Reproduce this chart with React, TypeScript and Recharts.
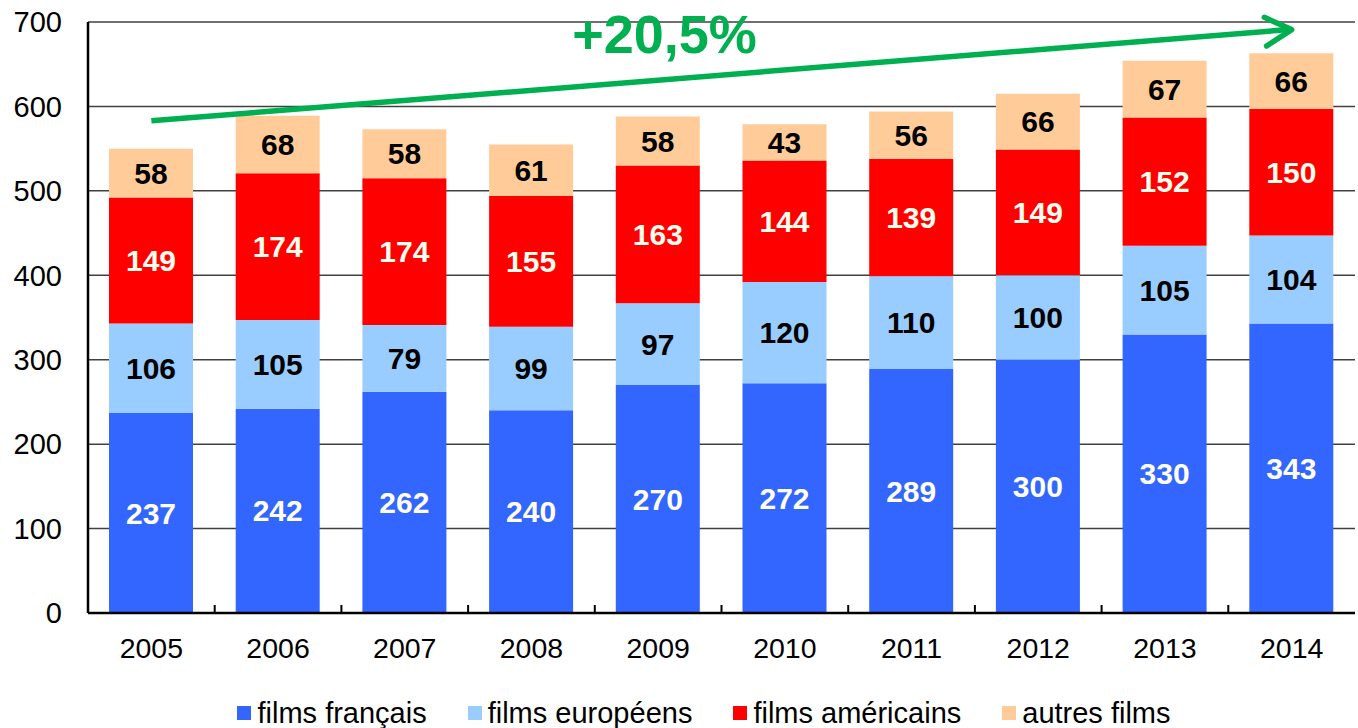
import {
  BarChart,
  Bar,
  XAxis,
  YAxis,
  CartesianGrid,
  Legend,
  LabelList,
  ReferenceLine,
} from "recharts";

const years = ["2005", "2006", "2007", "2008", "2009", "2010", "2011", "2012", "2013", "2014"];
const francais = [237, 242, 262, 240, 270, 272, 289, 300, 330, 343];
const europeens = [106, 105, 79, 99, 97, 120, 110, 100, 105, 104];
const americains = [149, 174, 174, 155, 163, 144, 139, 149, 152, 150];
const autres = [58, 68, 58, 61, 58, 43, 56, 66, 67, 66];
const seriesNames = ["films français", "films européens", "films américains", "autres films"];
const yTicks = [0, 100, 200, 300, 400, 500, 600, 700];
const trendLabel = "+20,5%";
const trendStart = 583;
const trendEnd = 691;

const data = years.map((y, i) => ({
  year: y,
  fr: francais[i],
  eu: europeens[i],
  us: americains[i],
  other: autres[i],
}));

const FONT = "'Liberation Sans', Arial, sans-serif";
const GREEN = "#00B050";

const YearTick = (props: any) => {
  const { x, y, payload, index } = props;
  const off = payload.offset || 0;
  return (
    <g>
      <text x={x} y={y + 45} textAnchor="middle" fontSize={28.5} fill="#000" fontFamily={FONT}>
        {payload.value}
      </text>
      {index < years.length - 1 && (
        <line x1={x + off} x2={x + off} y1={y} y2={y - 8} stroke="#000" strokeWidth={2} />
      )}
    </g>
  );
};

// trend arrow, drawn from the segment end points the library computes
const TrendArrow = (props: any) => {
  const { x1, y1, x2, y2 } = props;
  const ang = Math.atan2(y2 - y1, x2 - x1);
  const len = 30;
  const spread = 0.5;
  const ax1 = x2 - len * Math.cos(ang - spread);
  const ay1 = y2 - len * Math.sin(ang - spread);
  const ax2 = x2 - len * Math.cos(ang + spread);
  const ay2 = y2 - len * Math.sin(ang + spread);
  const tx = x1 + (x2 - x1) * 0.45;
  return (
    <g>
      <line x1={x1} y1={y1} x2={x2 - 3} y2={y2} stroke={GREEN} strokeWidth={5.5} />
      <polyline
        points={`${ax1},${ay1} ${x2},${y2} ${ax2},${ay2}`}
        fill="none"
        stroke={GREEN}
        strokeWidth={5.5}
        strokeLinecap="round"
        strokeLinejoin="round"
      />
      <text x={tx} y={y1 - 68} textAnchor="middle" fontSize={54} fontWeight="bold" fill={GREEN} fontFamily={FONT}>
        {trendLabel}
      </text>
    </g>
  );
};

const LegendContent = (props: any) => {
  const items = [...props.payload].sort(
    (a: any, b: any) => seriesNames.indexOf(a.value) - seriesNames.indexOf(b.value)
  );
  return (
    <div
      style={{
        display: "flex",
        justifyContent: "center",
        alignItems: "center",
        height: 30,
        paddingLeft: 53,
        fontFamily: FONT,
        fontSize: 29,
        color: "#000",
      }}
    >
      {items.map((p: any, i: number) => (
        <div key={p.value} style={{ display: "flex", alignItems: "center", marginRight: i < items.length - 1 ? 41 : 0 }}>
          <span style={{ width: 14, height: 14, background: p.color, marginRight: 6, display: "inline-block" }} />
          <span>{p.value}</span>
        </div>
      ))}
    </div>
  );
};

const labelStyle = { fontSize: 30, fontWeight: "bold", fontFamily: FONT } as const;

export default function App() {
  return (
    <div style={{ position: "absolute", left: 0, top: 0, background: "#fff", fontFamily: FONT }}>
      <BarChart width={1358} height={728} data={data} margin={{ top: 22, right: 3, left: 0, bottom: 0 }} barSize={84}>
        <CartesianGrid vertical={false} stroke="#404040" strokeWidth={1.5} />
        <XAxis
          dataKey="year"
          height={85}
          tick={<YearTick />}
          tickLine={false}
          tickSize={0}
          tickMargin={0}
          axisLine={{ stroke: "#000", strokeWidth: 2.5 }}
          interval={0}
        />
        <XAxis xAxisId="top" dataKey="year" orientation="top" height={0} tick={false} tickLine={false} axisLine={{ stroke: "#000", strokeWidth: 2 }} />
        <YAxis
          domain={[0, 700]}
          ticks={yTicks}
          width={88}
          tickSize={0}
          tickMargin={26}
          tickLine={false}
          tick={{ fontSize: 29, fill: "#000", fontFamily: FONT }}
          axisLine={{ stroke: "#000", strokeWidth: 2.5 }}
        />
        <YAxis yAxisId="right" orientation="right" width={0} domain={[0, 700]} tick={false} tickLine={false} axisLine={{ stroke: "#000", strokeWidth: 2 }} />
        <Legend verticalAlign="bottom" content={<LegendContent />} />
        <Bar dataKey="fr" name={seriesNames[0]} stackId="a" fill="#3366FF" isAnimationActive={false}>
          <LabelList dataKey="fr" position="center" fill="#FFFFF0" style={labelStyle} />
        </Bar>
        <Bar dataKey="eu" name={seriesNames[1]} stackId="a" fill="#99CCFF" isAnimationActive={false}>
          <LabelList dataKey="eu" position="center" fill="#000" style={labelStyle} />
        </Bar>
        <Bar dataKey="us" name={seriesNames[2]} stackId="a" fill="#FF0000" isAnimationActive={false}>
          <LabelList dataKey="us" position="center" fill="#FFFFF0" style={labelStyle} />
        </Bar>
        <Bar dataKey="other" name={seriesNames[3]} stackId="a" fill="#FFCC99" isAnimationActive={false}>
          <LabelList dataKey="other" position="center" fill="#000" style={labelStyle} />
        </Bar>
        <ReferenceLine
          segment={[
            { x: years[0], y: trendStart },
            { x: years[years.length - 1], y: trendEnd },
          ]}
          shape={<TrendArrow />}
          ifOverflow="visible"
        />
      </BarChart>
    </div>
  );
}
